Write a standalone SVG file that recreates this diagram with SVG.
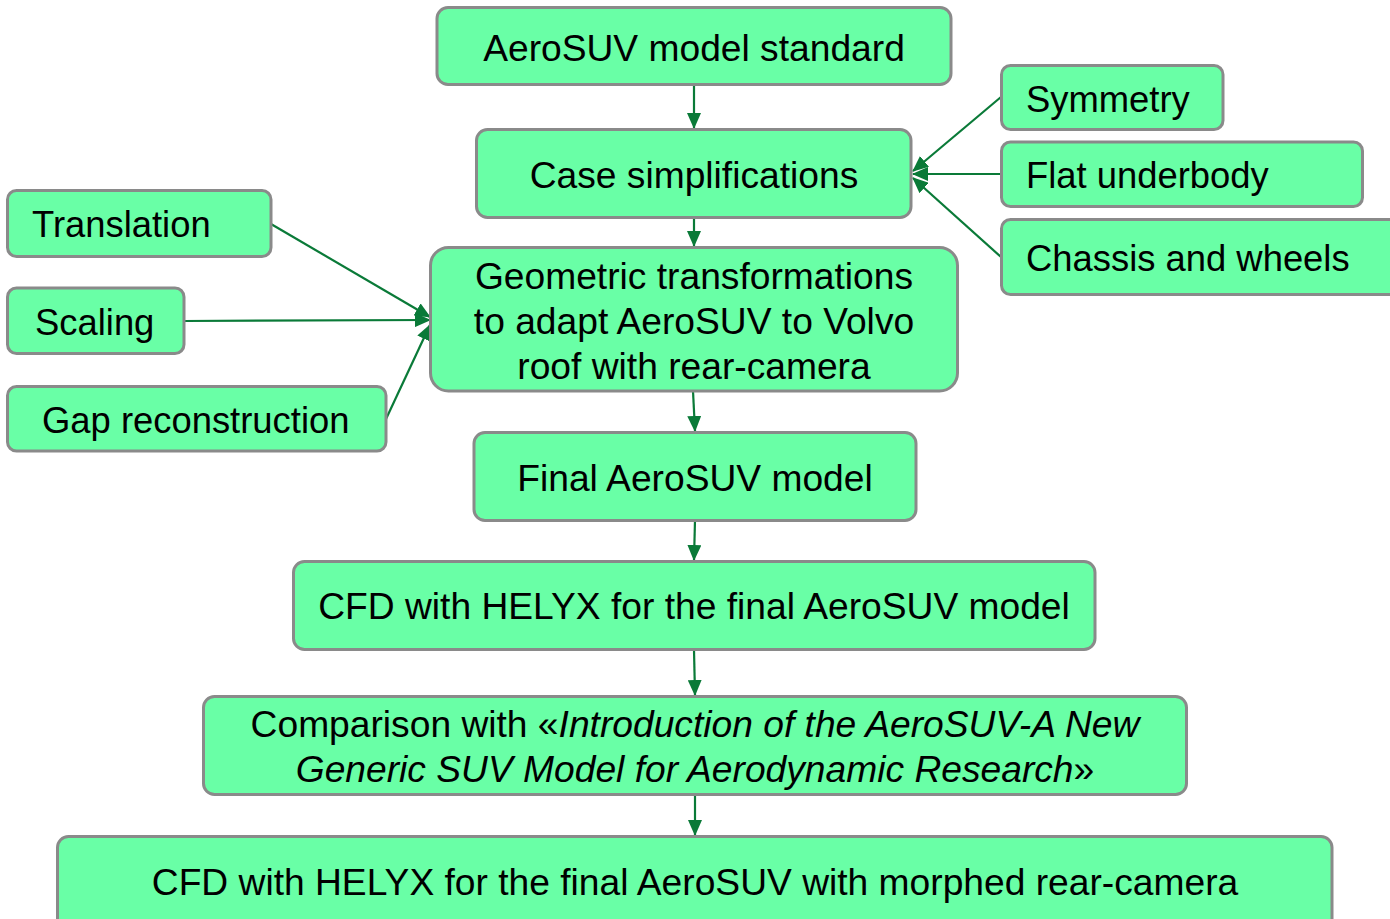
<svg xmlns="http://www.w3.org/2000/svg" width="1390" height="919" viewBox="0 0 1390 919">
<style>
.box{fill:#69FFA6;stroke:#8A8A8A;stroke-width:3}
.t{font-family:"Liberation Sans",Arial,sans-serif;font-size:37.2px;fill:#000}
.s{font-size:36.4px}
.c{text-anchor:middle}
.con line{stroke:#0A7A38;stroke-width:2.2;fill:none}
</style>
<defs>
<marker id="ah" viewBox="0 0 16 14" refX="15" refY="7" markerWidth="16" markerHeight="14" markerUnits="userSpaceOnUse" orient="auto">
<path d="M0,0 L16,7 L0,14 Z" fill="#0A7A38"/>
</marker>
</defs>
<rect width="1390" height="919" fill="#fff"/>
<g class="con">
<line x1="694" y1="85" x2="694" y2="128" marker-end="url(#ah)"/>
<line x1="694" y1="218" x2="694" y2="246" marker-end="url(#ah)"/>
<line x1="693" y1="391" x2="695" y2="431" marker-end="url(#ah)"/>
<line x1="695" y1="520" x2="694" y2="560" marker-end="url(#ah)"/>
<line x1="694" y1="650" x2="695" y2="695" marker-end="url(#ah)"/>
<line x1="695" y1="795" x2="695" y2="835" marker-end="url(#ah)"/>
<line x1="1001" y1="97" x2="913" y2="171" marker-end="url(#ah)"/>
<line x1="1001" y1="174" x2="913" y2="174" marker-end="url(#ah)"/>
<line x1="1001" y1="257" x2="913" y2="178" marker-end="url(#ah)"/>
<line x1="271" y1="224" x2="430" y2="317" marker-end="url(#ah)"/>
<line x1="184" y1="321" x2="430" y2="320" marker-end="url(#ah)"/>
<line x1="386" y1="419" x2="430" y2="325" marker-end="url(#ah)"/>
</g>
<g id="n1"><rect class="box" x="437" y="7.5" width="514" height="77" rx="11"/><text class="t c" x="694" y="61">AeroSUV model standard</text></g>
<g id="n2"><rect class="box" x="476.5" y="129.5" width="434.5" height="88" rx="11"/><text class="t c" x="694" y="188">Case simplifications</text></g>
<g id="n3"><rect class="box" x="430.5" y="247.5" width="527" height="143.5" rx="18"/><text class="t c" x="694" y="289">Geometric transformations</text><text class="t c" x="694" y="334">to adapt AeroSUV to Volvo</text><text class="t c" x="694" y="379">roof with rear-camera</text></g>
<g id="n4"><rect class="box" x="474" y="432.5" width="442" height="88" rx="11"/><text class="t c" x="695" y="491">Final AeroSUV model</text></g>
<g id="n5"><rect class="box" x="293.5" y="561.5" width="801.5" height="88" rx="11"/><text class="t c" x="694" y="619">CFD with HELYX for the final AeroSUV model</text></g>
<g id="n6"><rect class="box" x="203.5" y="696.5" width="983" height="98" rx="11"/><text class="t c" x="695" y="737">Comparison with «<tspan font-style="italic">Introduction of the AeroSUV-A New</tspan></text><text class="t c" x="695" y="782"><tspan font-style="italic">Generic SUV Model for Aerodynamic Research</tspan>»</text></g>
<g id="n7"><rect class="box" x="57.5" y="836.5" width="1274.5" height="95" rx="11"/><text class="t c" x="695" y="895">CFD with HELYX for the final AeroSUV with morphed rear-camera</text></g>
<g id="s1"><rect class="box" x="1001.5" y="65.5" width="221.5" height="64" rx="9"/><text class="t s" x="1026" y="112">Symmetry</text></g>
<g id="s2"><rect class="box" x="1001.5" y="142" width="361" height="64.5" rx="9"/><text class="t s" x="1026" y="188">Flat underbody</text></g>
<g id="s3"><rect class="box" x="1001.5" y="219.5" width="400" height="75" rx="9"/><text class="t s" x="1026" y="271">Chassis and wheels</text></g>
<g id="l1"><rect class="box" x="7.5" y="190.5" width="263.5" height="66" rx="9"/><text class="t s" x="32" y="237">Translation</text></g>
<g id="l2"><rect class="box" x="7.5" y="288" width="176.5" height="65.5" rx="9"/><text class="t s" x="35" y="335">Scaling</text></g>
<g id="l3"><rect class="box" x="7.5" y="386.5" width="378.5" height="64.5" rx="9"/><text class="t s" x="42" y="433">Gap reconstruction</text></g>
</svg>
